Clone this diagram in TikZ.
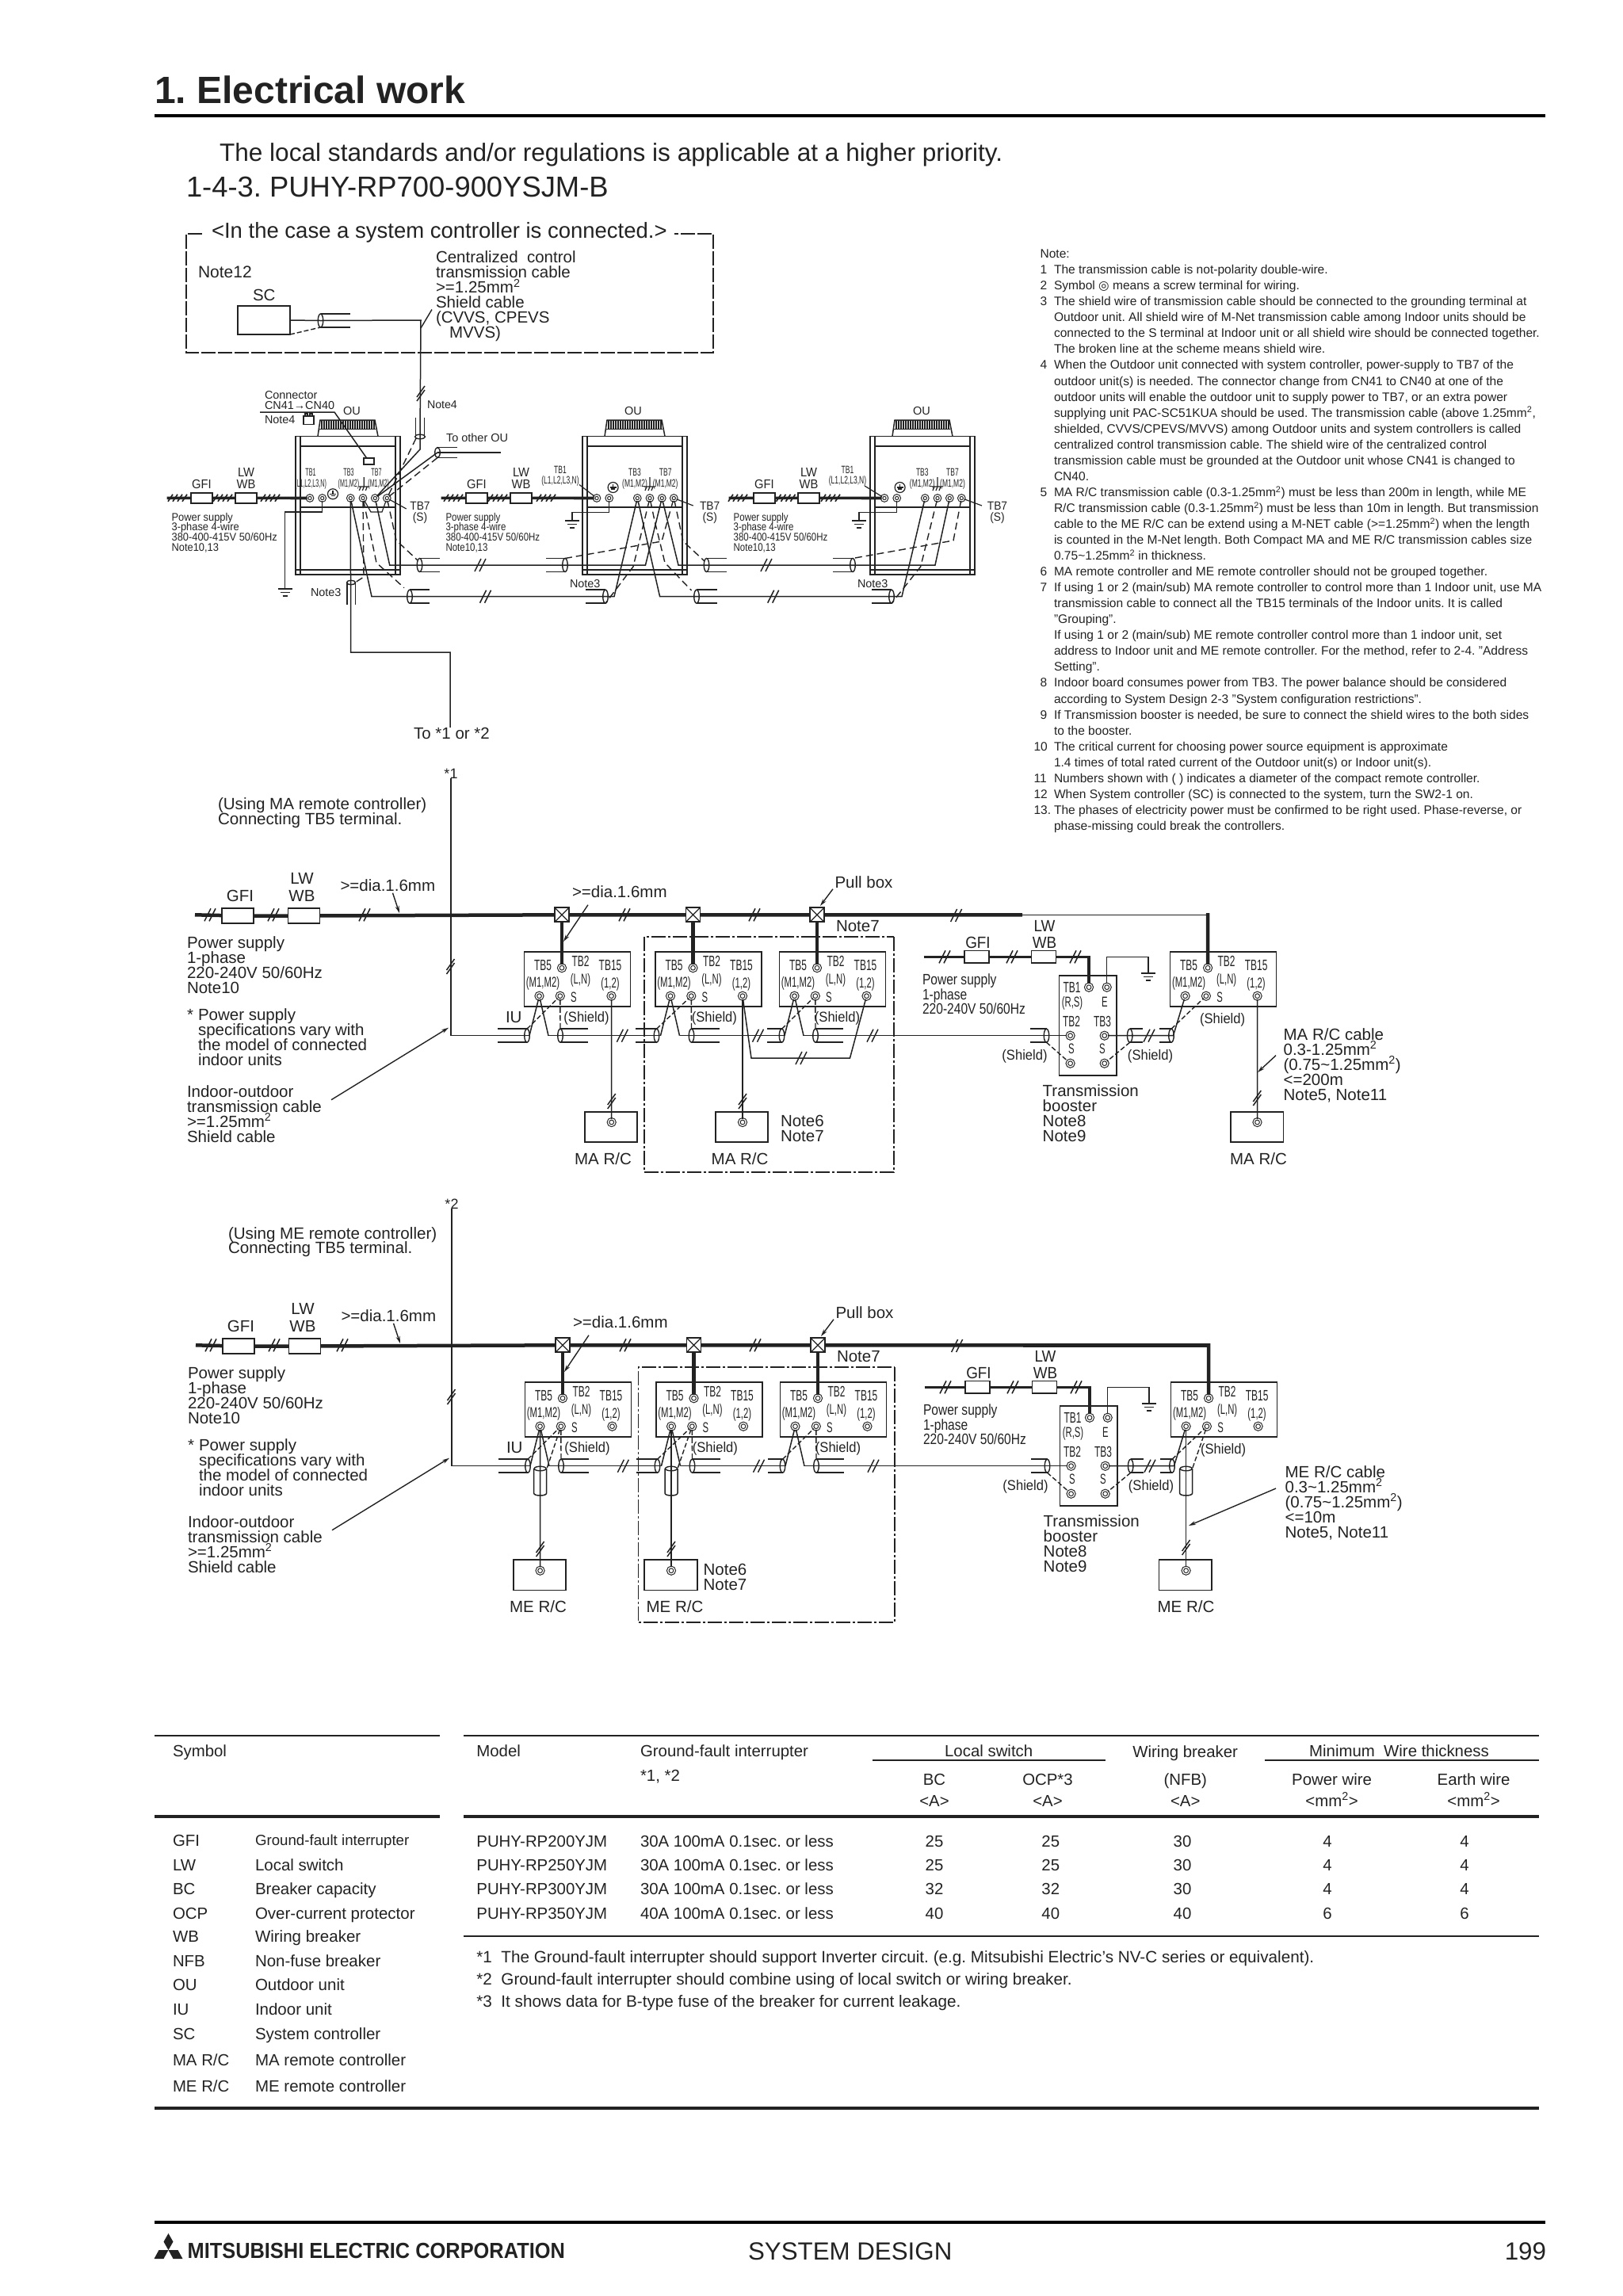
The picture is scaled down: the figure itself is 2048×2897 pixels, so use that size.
\documentclass[tikz,border=0pt]{standalone}
\usepackage{fontspec}
\setmainfont{Liberation Sans}
\newfontfamily\fS[FakeStretch=0.63]{Liberation Sans}
\newfontfamily\fT[FakeStretch=0.53]{Liberation Sans}
\newfontfamily\fO[FakeStretch=0.82]{Liberation Sans}
\newfontfamily\fN[FakeStretch=0.92]{Liberation Sans}
\newfontfamily\dv{DejaVu Sans}
\usetikzlibrary{shapes.geometric,arrows.meta}
\definecolor{ink}{HTML}{222222}
\def\tffam{}
\newcommand\tfont[2]{\fontsize{#1}{#2}\selectfont\tffam\frenchspacing\lineskiplimit-100pt\relax}
\tikzset{
 fam/.code={\def\tffam{#1}},
 lbl/.style={inner sep=0pt,outer sep=0pt,anchor=north west,align=left,text=ink},
 wire/.style={draw=ink,line width=1.5pt},
 power/.style={draw=ink,line width=4.5pt},
 shd/.style={draw=ink,line width=1.4pt,dash pattern=on 9pt off 5pt},
 frm/.style={draw=ink,line width=1.8pt,dash pattern=on 18pt off 3pt on 3pt off 3pt},
 tk/.style={draw=ink,line width=1.5pt},
 box/.style={draw=ink,line width=1.7pt,inner sep=0pt,outer sep=0pt,anchor=north west,rectangle},
 fuse/.style={draw=ink,line width=1.7pt,fill=white,inner sep=0pt,outer sep=0pt,rectangle},
 pull/.style={fuse,minimum width=18,minimum height=18,path picture={
   \draw[line width=1.2pt,draw=ink] (path picture bounding box.north west)--(path picture bounding box.south east)
   (path picture bounding box.north east)--(path picture bounding box.south west);}},
 term/.style={circle,draw=ink,fill=white,line width=1.1pt,double=white,double distance=1.3pt,minimum size=8.5,inner sep=0pt,outer sep=0pt},
 tterm/.style={term,minimum size=7},
 shl/.style={ellipse,draw=ink,line width=1.4pt,minimum width=6.5,minimum height=17,inner sep=0pt,outer sep=0pt},
 shv/.style={ellipse,draw=ink,line width=1.4pt,minimum width=15,minimum height=5.5,inner sep=0pt,outer sep=0pt},
 lead/.style={draw=ink,line width=1.4pt,-{Stealth[length=9pt,width=5pt]}},
 rul/.style={draw=ink},
}
\newcounter{tn}
\newcommand\TX[6][]{\stepcounter{tn}\node[lbl,font=\tfont{#4}{#5},yshift={0.64*#4*1pt},#1] (t\arabic{tn}) at (#2,#3) {\rule{0pt}{#4pt}#6};}
\newcommand\tkh[2]{\draw[tk] (#1-7,#2+8)--(#1+1,#2-8) (#1-1,#2+8)--(#1+7,#2-8);}
\newcommand\tkv[2]{\draw[tk] (#1-5,#2+9)--(#1+5,#2-5) (#1-5,#2+4)--(#1+5,#2-10);}
\newcommand\tkf[2]{\draw[tk,line width=1.7pt] (#1-13,#2+4.5)--(#1-7,#2-4.5) (#1-7,#2+4.5)--(#1-1,#2-4.5) (#1-1,#2+4.5)--(#1+5,#2-4.5) (#1+5,#2+4.5)--(#1+11,#2-4.5);}
\newcommand\GN[2]{\draw[wire] (#1-9,#2)--(#1+9,#2) (#1-6,#2+4.5)--(#1+6,#2+4.5) (#1-3,#2+9)--(#1+3,#2+9);}
\newcommand\EARTH[2]{\draw[draw=ink,line width=1.2pt] (#1,#2-12)--(#1,#2) (#1-7,#2)--(#1+7,#2) (#1-6,#2+5)--(#1-4,#2) (#1-2,#2+5)--(#1,#2) (#1+2,#2+5)--(#1+4,#2);}
\newcommand\PE[2]{\draw[draw=ink,line width=1.2pt] (#1,#2) circle[radius=6.5];\draw[draw=ink,line width=1.2pt] (#1,#2-4)--(#1,#2) (#1-4,#2)--(#1+4,#2) (#1-2.5,#2+2)--(#1+2.5,#2+2);}
\newcommand\cabRL[4]{\node[shl] (#1) at (#2,#3) {};\draw[wire] (#1.north)--++(#4,0) (#1.south)--++(#4,0);}
% outdoor unit
\newcommand\OU[2]{\begin{scope}[shift={(#2,550.5)}]
 \node[box,minimum width=132,minimum height=174.5] (#1) at (0,0) {};
 \draw[wire,line width=1.6pt] (6,0)--(6,174.5) (126,0)--(126,174.5) (0,168.5)--(132,168.5);
 \draw[wire,line width=2pt] (6,12.5)--(126,12.5) (6,89.5)--(126,89.5);
 \draw[wire] (28,0)--(31,-20.5)--(100,-20.5)--(104,0);
 \draw[wire] (30,-9)--(101,-9);
 \foreach \q in {33,36,...,99}{\draw[draw=ink,line width=1.2pt] (\q,-20.5)--(\q,-9);}
 \node[tterm] (#1-L) at (18,78) {};
 \node[tterm] (#1-E) at (33.7,78) {};
 \node[tterm] (#1-A) at (69.3,78) {};
 \node[tterm] (#1-B) at (85,78) {};
 \node[tterm] (#1-C) at (100.3,78) {};
 \node[tterm] (#1-D) at (115.3,78) {};
\end{scope}}
% power feed of an outdoor unit
\newcommand\FEED[9]{%name,unit,x start,gfi,lw,t1,t2,t3,family
 \coordinate (#1-s) at (#3,628.3);
 \node[fuse,minimum width=27,minimum height=13] (#1-g) at (#4,628.3) {};
 \node[fuse,minimum width=27,minimum height=13] (#1-w) at (#5,628.3) {};
 \draw[power,line width=3.6pt] (#1-s)--(#1-g) (#1-g)--(#1-w) (#1-w)--(#2-L);
 \tkf{#6}{628.3}\tkf{#7}{628.3}\tkf{#8}{628.3}
 \TX[anchor=north,fam=\fN]{#4}{610.6}{16}{16}{GFI}
 \TX[anchor=north,align=center,fam=\fN]{#5}{596}{16}{14.6}{LW\\WB}
 \TX[fam=#9]{#3+6}{652}{14}{12.9}{Power supply\\3-phase 4-wire\\380-400-415V 50/60Hz\\Note10,13}
}
% indoor unit
\newcommand\IU[3]{\begin{scope}[shift={(#2,#3)}]
 \node[box,minimum width=134,minimum height=69.5] (#1) at (0,0) {};
 \node[term] (#1-T2) at (47.5,20.5) {};
 \node[term] (#1-M) at (19,56) {};
 \node[term] (#1-S) at (45.3,56) {};
 \node[term] (#1-T15) at (110,56) {};
 \TX[anchor=north,fam=\fS]{23.5}{17.3}{19}{19}{TB5}
 \TX[anchor=north,fam=\fS]{23.5}{38.3}{18}{18}{(M1,M2)}
 \TX[anchor=north,fam=\fS]{71}{12.3}{19}{19}{TB2}
 \TX[anchor=north,fam=\fS]{71}{34.3}{18}{18}{(L,N)}
 \TX[anchor=north,fam=\fS]{108.5}{17.3}{19}{19}{TB15}
 \TX[anchor=north,fam=\fS]{108.5}{39.3}{18}{18}{(1,2)}
 \TX[anchor=north,fam=\fS]{62.5}{57.3}{18}{18}{S}
\end{scope}}
% transmission at an indoor unit: name, x0, y0, left ellipse rel x, left len, shield rel x
\newcommand\IUW[6]{\begin{scope}[shift={(#2,#3)}]
 \cabRL{#1-cl}{#4}{106}{-#5}
 \cabRL{#1-cr}{45.5}{106}{35}
 \coordinate (#1-ll) at (6.5,106);
 \coordinate (#1-lr) at (30.5,106);
 \draw[wire] (#1-ll)--(#1-M)--(#1-lr);
 \draw[shd,dash pattern=on 6pt off 3pt] (#1-cl.north)--(#1-S);
 \draw[shd,dash pattern=on 7pt off 3pt] (#1-S)--(#1-cr.north);
 \TX[anchor=north,fam=\fN]{#6}{82.3}{18}{18}{(Shield)}
\end{scope}}
% the common part of the two indoor diagrams, in MA coordinates
\newcommand\SYS[5]{\begin{scope}[shift={(#2,#3)}]
 \node[lbl,anchor=center,font=\tfont{18}{18}] (#1-star) at (569,976) {#4};
 \coordinate (#1-start) at (246,1154.3);
 \node[fuse,minimum width=40,minimum height=19] (#1-gfi) at (300.3,1155.5) {};
 \node[fuse,minimum width=40,minimum height=19] (#1-lw) at (383.6,1155.5) {};
 \node[pull] (#1-pb1) at (709,1154.3) {};
 \node[pull] (#1-pb2) at (874.5,1154.3) {};
 \node[pull] (#1-pb3) at (1031,1154.3) {};
 \IU{#1a}{661.5}{1200.7}\IU{#1b}{827}{1200.7}\IU{#1c}{983.5}{1200.7}\IU{#1d}{1476.6}{1200.7}
 \draw[power] (#1-start)--(#1-gfi) (#1-gfi)--(#1-lw) (#1-lw)--(#1-pb1) (#1-pb1)--(#1-pb2) (#1-pb2)--(#1-pb3) (#1-pb3)--(1290,1154.3);
 \draw[draw=ink,line width=#5] (1290,1154.3)--(1524,1154.3);
 \draw[power] (1524,1152)--(#1d-T2);
 \draw[power] (#1-pb1)--(#1a-T2);\draw[power] (#1-pb2)--(#1b-T2);\draw[power] (#1-pb3)--(#1c-T2);
 \tkh{265}{1154.3}\tkh{345}{1154.3}\tkh{1206.6}{1155}\tkh{788}{1154.3}\tkh{952}{1154.3}
 \TX[anchor=north]{303}{1130}{20.5}{20}{GFI}
 \TX[anchor=north,align=center]{381}{1108}{20.5}{22}{LW\\WB}
 \TX{429.5}{1116.7}{20.5}{20}{>=dia.1.6mm}
 \TX{722}{1125}{20.5}{20}{>=dia.1.6mm}
 \draw[lead] (495.5,1126.7)--(504,1152);
 \draw[lead] (742,1141.7)--(711,1188);
 \TX{1053.5}{1113}{20.5}{20}{Pull box}
 \draw[lead] (1051,1121.7)--(1035,1143);
 \TX{1055}{1168}{20.5}{20}{Note7}
 \TX{236}{1189}{20.5}{19}{Power supply\\1-phase\\220-240V 50/60Hz\\Note10}
 \TX{236}{1280}{20.5}{19}{*}
 \TX{250}{1280}{20.5}{19}{Power supply\\specifications vary with\\the model of connected\\indoor units}
 \TX{236}{1376.7}{20.5}{19}{Indoor-outdoor\\transmission cable\\>=1.25mm\textsuperscript{2}\\Shield cable}
 \TX{638}{1283}{20.5}{20}{IU}
 \draw[lead] (418,1387.7)--(566,1296.7);
 \tkv{568.5}{1220}
 \IUW{#1a}{661.5}{1200.7}{3.5}{37}{78.5}
 \IUW{#1b}{827}{1200.7}{1.5}{27}{74.4}
 \IUW{#1c}{983.5}{1200.7}{3}{19}{73}
 \draw[wire] (#1-star.south) |- (#1a-cl.center) -- (#1a-ll);
 \draw[wire] (#1a-lr)--(#1a-cr.center)--(#1b-cl.center)--(#1b-ll);
 \draw[wire] (#1b-lr)--(#1b-cr.center)--(#1c-cl.center)--(#1c-ll);
 \tkh{785.4}{1306.7}\tkh{956.5}{1306.7}\tkh{1101}{1306.7}
 % booster
 \begin{scope}[shift={(1336.5,1230.7)}]
  \node[box,minimum width=72.3,minimum height=126.6] (#1e) at (0,0) {};
  \node[term] (#1e-TB1) at (37.5,15) {};
  \node[term] (#1e-E) at (60.2,15) {};
  \node[term] (#1e-TB2) at (14.1,76) {};
  \node[term] (#1e-TB3) at (57.2,76) {};
  \node[term] (#1e-SL) at (14.1,111) {};
  \node[term] (#1e-SR) at (57.2,111) {};
  \coordinate (#1e-s) at (-171,-23.4);
  \node[fuse,minimum width=31,minimum height=15.5] (#1e-g) at (-104,-23.4) {};
  \node[fuse,minimum width=31,minimum height=15.5] (#1e-w) at (-19.6,-23.4) {};
  \draw[power,line width=3.6pt] (#1e-s)--(#1e-g) (#1e-g)--(#1e-w) (#1e-w) -| (#1e-TB1);
  \tkh{-144.5}{-23.4}\tkh{-59.5}{-23.4}\tkh{20.5}{-23.4}
  \coordinate (#1e-gr) at (112.5,-2.7);
  \draw[wire] (#1e-E) |- (#1e-gr |- 0,-23.4) -- (#1e-gr);
  \GN{112.5}{-2.7}
  \TX[anchor=north,fam=\fN]{-102.5}{-41.7}{20.5}{20}{GFI}
  \TX[anchor=north,align=center,fam=\fN]{-18.5}{-62.7}{20.5}{21}{LW\\WB}
  \TX[fam=\fO]{-172.5}{5.3}{19}{18.5}{Power supply\\1-phase\\220-240V 50/60Hz}
  \TX[anchor=north,fam=\fS]{16}{15}{19}{19}{TB1}
  \TX[anchor=north,fam=\fS]{16.5}{33.3}{18}{18}{(R,S)}
  \TX[anchor=north,fam=\fS]{57.5}{33.3}{18}{18}{E}
  \TX[anchor=north,fam=\fS]{15.5}{58.3}{19}{19}{TB2}
  \TX[anchor=north,fam=\fS]{54.5}{58.3}{19}{19}{TB3}
  \TX[anchor=north,fam=\fS]{15.5}{92.3}{18}{18}{S}
  \TX[anchor=north,fam=\fS]{54.5}{92.3}{18}{18}{S}
  \TX[anchor=north,fam=\fN]{-43.5}{100}{18}{18}{(Shield)}
  \TX[anchor=north,fam=\fN]{115}{100}{18}{18}{(Shield)}
  \TX{-20.8}{145.3}{20.5}{19}{Transmission\\booster\\Note8\\Note9}
  \cabRL{#1e-cl}{-16}{76}{-21}
  \cabRL{#1e-c1}{89.2}{76}{16}
  \cabRL{#1e-c2}{141.5}{76}{-15}
  \coordinate (#1e-low) at (144,76);
  \tkh{113.5}{76}
 \end{scope}
 \draw[wire] (#1c-lr)--(#1c-cr.center)--(#1e-cl.center)--(#1e-TB2);
 \draw[wire] (#1e-TB3)--(#1e-c1.center)--(#1e-c2.center)--(#1e-low)--(#1d-M);
 \draw[shd,dash pattern=on 6pt off 3pt] (#1e-cl.south)--(#1e-SL);
 \draw[shd,dash pattern=on 6pt off 3pt] (#1e-c1.south)--(#1e-SR);
 \draw[shd,dash pattern=on 6pt off 3pt] (#1e-c2.north)--(#1d-S);
 \TX[anchor=north,fam=\fN]{1542.6}{1285}{18}{18}{(Shield)}
\end{scope}}
\newcommand\CYL[3]{% name, x, y of top
 \node[shv] (#1) at (#2,#3) {};
 \draw[wire] (#2-8,#3)--(#2-8,#3+31) .. controls (#2-8,#3+35) and (#2+8,#3+35) .. (#2+8,#3+31)--(#2+8,#3);
}
\newcommand\NT[4]{\pgfmathsetmacro\ny{320+20.05*#1}\TX{#2}{\ny}{15.55}{15.55}{#3}\TX{1330}{\ny}{15.55}{20.05}{#4}}
\newcommand\RW[8]{\TX{601.4}{#1}{20.4}{20}{#2}\TX{808}{#1}{20.4}{20}{#3}
 \TX[anchor=north]{1179}{#1}{20.4}{20}{#4}\TX[anchor=north]{1325.8}{#1}{20.4}{20}{#5}
 \TX[anchor=north]{1492}{#1}{20.4}{20}{#6}\TX[anchor=north]{1675}{#1}{20.4}{20}{#7}
 \TX[anchor=north]{1848}{#1}{20.4}{20}{#8}}
\newcommand\SM[3]{\TX{218}{#1}{20.4}{20}{#2}\TX{322}{#1}{20.5}{20}{#3}}
\begin{document}
\begin{tikzpicture}[x=1pt,y=-1pt]
\useasboundingbox (0,0) rectangle (2048,2897);
% header
\TX{195}{113}{48}{48}{\bfseries 1. Electrical work}
\draw[draw=black,line width=4pt] (195,146)--(1950,146);
\TX{277}{191.7}{31.6}{31}{The local standards and/or regulations is applicable at a higher priority.}
\TX{235}{235}{36.4}{33}{1-4-3. PUHY-RP700-900YSJM-B}
% controller frame
\TX{267}{291}{27.5}{26}{<In the case a system controller is connected.>}
\draw[frm,dash pattern=on 18pt off 3pt] (255,295)--(235,295)--(235,445)--(900,445)--(900,295)--(851,295);
\TX{250}{343}{21}{20}{Note12}
\TX{319}{372}{20.5}{20}{SC}
\node[box,minimum width=66,minimum height=36] (sc) at (300,386) {};
\TX{550}{324.5}{20.5}{19}{Centralized\ \ control\\transmission cable\\>=1.25mm\textsuperscript{2}\\Shield cable\\(CVVS, CPEVS\\\ \ \ MVVS)}
\node[shl] (sccab) at (404.5,404.5) {};
\draw[wire] (sccab.north)--++(37,0) (sccab.south)--++(37,0);
\draw[shd,dash pattern=on 6pt off 3pt] (sc.south east)--(sccab.south);
% outdoor units
\OU{oua}{373}\OU{oub}{735}\OU{ouc}{1098}
\node[shv,minimum width=13] (cv) at (530,551) {};
\draw[wire] (524.5,551)--(524.5,527) (535.5,551)--(535.5,527);
\draw[wire] (sc.east)--(sccab.center)--(531,404)--(cv.center);
\draw[lead,-] (545,390.5)--(531,414);
\tkv{531}{497}
\TX{539}{510}{14.2}{14}{Note4}
\TX{334}{498}{14.4}{13}{Connector\\CN41→CN40}
\TX{334}{529}{14.4}{14}{Note4}
\draw[draw=ink,line width=1.3pt] (383,525) rectangle (396,535.5) (385,525)--(385,522)--(388,522)--(388,525) (391,525)--(391,522)--(394,522)--(394,525);
\node[box,minimum width=13,minimum height=8] (cn) at (459,578) {};
\draw[wire] (328,520)--(422,520)--(cn);
\TX[anchor=north]{444}{518}{14.5}{14}{OU}
\TX[anchor=north]{799}{518}{14.5}{14}{OU}
\TX[anchor=north]{1163}{518}{14.5}{14}{OU}
\TX{563}{552}{14.5}{14}{To other OU}
\node[shl,minimum height=13] (ot) at (552,571) {};
\draw[wire] (ot.north)--++(25,0) (ot.south)--++(25,0);
\draw[wire,line width=1.2pt] (ot.center)--(632,571);
\draw[wire] (cv.center)--(530,567)--(oua-C);
\draw[wire] (ot.center)--(oua-C);
\draw[shd] (525,553)--(oua-D);
\draw[shd] (ot.south)--(oua-D);
\PE{420}{623.3}\PE{773.6}{615}\PE{1135.6}{615}
\EARTH{459.3}{614}\EARTH{820}{614}\EARTH{1183}{614}
% grounds
\coordinate (ga) at (359.6,743);\coordinate (gb) at (722,657);\coordinate (gc) at (1084,657);
\draw[wire] (oua-E)|-(ga|-0,646)--(ga);\GN{359.6}{743}
\draw[wire] (oub-E)|-(gb|-0,646.7)--(gb);\GN{722}{657}
\draw[wire] (ouc-E)|-(gc|-0,646.7)--(gc);\GN{1084}{657}
% feeds
\FEED{fa}{oua}{210.6}{254.5}{310.5}{225}{282}{342}{\fN}
\FEED{fb}{oub}{556.5}{601.5}{657.5}{573}{629}{690}{\fO}
\FEED{fc}{ouc}{919.7}{964.5}{1020.5}{932}{992.5}{1049}{\fO}
% terminal labels
\TX[anchor=north,fam=\fT]{392}{596}{13.5}{13}{TB1}
\TX[anchor=north,fam=\fT]{392}{610}{13.5}{13}{(L1,L2,L3,N)}
\TX[anchor=north,fam=\fT]{440}{596}{13.5}{13}{TB3}
\TX[anchor=north,fam=\fT]{440}{610}{13.5}{13}{(M1,M2)}
\TX[anchor=north,fam=\fT]{475}{596}{13.5}{13}{TB7}
\TX[anchor=north,fam=\fT]{477.7}{610}{13.5}{13}{(M1,M2)}
\TX[anchor=north,fam=\fS]{707}{592.7}{13.5}{13}{TB1}
\TX[anchor=north,fam=\fS]{707}{606}{13.5}{13}{(L1,L2,L3,N)}
\TX[anchor=north,fam=\fS]{801}{595.7}{13.5}{13}{TB3}
\TX[anchor=north,fam=\fS]{801}{610}{13.5}{13}{(M1,M2)}
\TX[anchor=north,fam=\fS]{839.7}{595.7}{13.5}{13}{TB7}
\TX[anchor=north,fam=\fS]{839.7}{610}{13.5}{13}{(M1,M2)}
\TX[anchor=north,fam=\fS]{1069.5}{592.7}{13.5}{13}{TB1}
\TX[anchor=north,fam=\fS]{1069.5}{606}{13.5}{13}{(L1,L2,L3,N)}
\TX[anchor=north,fam=\fS]{1163.8}{595.7}{13.5}{13}{TB3}
\TX[anchor=north,fam=\fS]{1163.8}{610}{13.5}{13}{(M1,M2)}
\TX[anchor=north,fam=\fS]{1202}{595.7}{13.5}{13}{TB7}
\TX[anchor=north,fam=\fS]{1202}{610}{13.5}{13}{(M1,M2)}
\draw[wire,line width=1.2pt] (731,611.5)--(oub-L);
\draw[wire,line width=1.2pt] (1091,613)--(ouc-L);
% TB7 (S)
\TX[anchor=north,align=center,fam=\fN]{530}{638}{15}{14}{TB7\\(S)}
\TX[anchor=north,align=center,fam=\fN]{895.7}{638}{15}{14}{TB7\\(S)}
\TX[anchor=north,align=center,fam=\fN]{1258.5}{638}{15}{14}{TB7\\(S)}
\draw[wire,line width=1.2pt] (512.7,642)--(oua-D);
\draw[wire,line width=1.2pt] (874.7,638)--(oub-D);
\draw[wire,line width=1.2pt] (1239,638)--(ouc-D);
\TX{392}{747}{14.4}{14}{Note3}
\TX{719}{736}{14.4}{14}{Note3}
\TX{1082}{736}{14.4}{14}{Note3}
% centralised rows
\cabRL{ra}{529.5}{713}{25}\cabRL{rb}{713}{713}{-24}\cabRL{rc}{891.5}{713}{25}\cabRL{rd}{1076}{713}{-25}
\cabRL{sa}{517}{752.7}{25}\cabRL{sb}{764}{752.7}{-25}\cabRL{sc2}{879}{752.7}{26}\cabRL{sd}{1125}{752.7}{-25}
\draw[wire] (oua-C)--(491.7,713)--(ra.center)--(rb.center)--(814.5,713)--(oub-C);
\draw[wire] (oub-C)--(856,713)--(rc.center)--(rd.center)--(1180,713)--(ouc-C);
\draw[wire] (oua-A)--(469,752.7)--(sa.center)--(sb.center)--(775,752.7)--(oub-A);
\draw[wire] (oub-A)--(832.6,752.7)--(sc2.center)--(sd.center)--(1138,752.7)--(ouc-A);
\tkh{606}{713}\tkh{612.6}{752.7}\tkh{967}{713}\tkh{975.7}{752.7}
\draw[wire,line width=1.2pt] (oua-B)--(468,646)--(482,646)--(oua-D);
\draw[shd] (oua-B)--(459,728)--(448,735);
\draw[shd] (oua-B)--(475,710)--(510,741.7);
\draw[shd] (oua-D)--(500,681.7)--(526.7,706.7);
\draw[shd] (oub-B)--(799,715)--(sb.south);
\draw[shd] (oub-B)--(826,657)--(839,710)--(872.5,745);
\draw[shd] (oub-D)--(835,683)--(rb.north);
\draw[shd] (oub-D)--(862,683)--(889,708);
\draw[shd] (ouc-B)--(1161.7,715)--(sd.south);
\draw[shd] (ouc-D)--(1203,682)--(rd.north);
% to the indoor units
\node[shv,minimum width=11] (dn) at (443,735) {};
\draw[wire] (438,735)--(438,763) (448.3,735)--(448.3,763);
\node[lbl,anchor=center,font=\tfont{20.5}{20}] (to12) at (570,925) {To *1 or *2};
\draw[wire] (oua-A)--(442.7,823)--(568,823)--(to12.north-|568,0);
% ---- indoor diagrams
\TX{275}{1014.5}{20.6}{18.5}{(Using MA remote controller)\\Connecting TB5 terminal.}
\draw[frm] (1128,1182) rectangle (813,1479);
\SYS{ma}{0}{0}{*1}{1.4pt}
\node[box,minimum width=66,minimum height=38] (marc1) at (738,1403) {};
\node[term] (marc1-t) at (771.7,1416) {};
\node[box,minimum width=66,minimum height=38] (marc2) at (903,1403) {};
\node[term] (marc2-t) at (937,1416) {};
\node[box,minimum width=66.6,minimum height=38] (marc4) at (1553,1403) {};
\node[term] (marc4-t) at (1586.5,1416) {};
\draw[wire] (maa-T15)--(marc1-t);
\draw[wire] (mab-T15)--(marc2-t);
\draw[wire] (mad-T15)--(marc4-t);
\draw[wire] (mab-T15)--(948,1335)--(1072.5,1335)--(mac-T15);
\tkv{771.7}{1390}\tkv{937}{1390}\tkv{1586.3}{1386}\tkh{1011}{1335}
\TX[anchor=north]{761}{1462}{20.5}{20}{MA R/C}
\TX[anchor=north]{933.6}{1462}{20.5}{20}{MA R/C}
\TX[anchor=north]{1588}{1462}{20.5}{20}{MA R/C}
\TX{985}{1414}{20.5}{19}{Note6\\Note7}
\TX{1619.6}{1305}{20.5}{19}{MA R/C cable\\0.3-1.25mm\textsuperscript{2}\\(0.75\textasciitilde1.25mm\textsuperscript{2})\\<=200m\\Note5, Note11}
\draw[lead] (1610,1331.7)--(1587,1353);
\tkh{460}{1154.3}
% ME
\TX{288}{1556}{20.6}{18.5}{(Using ME remote controller)\\Connecting TB5 terminal.}
\draw[frm] (1129,1725) rectangle (805.5,2047);
\SYS{me}{1}{543}{*2}{4.5pt}
\tkh{432}{1697.3}
\CYL{mecy1}{681.6}{1853}\CYL{mecy2}{847}{1853}\CYL{mecy4}{1496.6}{1853}
\node[box,minimum width=66,minimum height=38.5] (merc1) at (648,1968) {};
\node[term] (merc1-t) at (681.6,1981.7) {};
\node[box,minimum width=67,minimum height=38.5] (merc2) at (813,1968) {};
\node[term] (merc2-t) at (847,1981.7) {};
\node[box,minimum width=66.4,minimum height=38.5] (merc4) at (1462.6,1968) {};
\node[term] (merc4-t) at (1496.6,1981.7) {};
\draw[wire] (mea-M)--(merc1-t);
\draw[wire] (meb-M)--(merc2-t);
\draw[wire] (med-M)--(merc4-t);
\draw[shd,dash pattern=on 6pt off 3pt] (mea-S)--(690,1853);
\draw[shd,dash pattern=on 6pt off 3pt] (meb-S)--(855,1853);
\draw[shd,dash pattern=on 6pt off 3pt] (med-S)--(1504.6,1853);
\tkv{681.6}{1955}\tkv{847}{1955}\tkv{1496.6}{1953}
\TX[anchor=north]{679}{2027}{20.5}{20}{ME R/C}
\TX[anchor=north]{851.5}{2027}{20.5}{20}{ME R/C}
\TX[anchor=north]{1496.5}{2027}{20.5}{20}{ME R/C}
\TX{887.6}{1980}{20.5}{19}{Note6\\Note7}
\TX{1621.6}{1857}{20.5}{19}{ME R/C cable\\0.3\textasciitilde1.25mm\textsuperscript{2}\\(0.75\textasciitilde1.25mm\textsuperscript{2})\\<=10m\\Note5, Note11}
\draw[lead] (1610,1878)--(1500,1925);
% notes
\TX{1312.6}{320}{15.55}{15.55}{Note:}
\NT{1}{1312.6}{1}{The transmission cable is not-polarity double-wire.}
\NT{2}{1312.6}{2}{Symbol {\dv ◎} means a screw terminal for wiring.}
\NT{3}{1312.6}{3}{The shield wire of transmission cable should be connected to the grounding terminal at\\Outdoor unit. All shield wire of M-Net transmission cable among Indoor units should be\\connected to the S terminal at Indoor unit or all shield wire should be connected together.\\The broken line at the scheme means shield wire.}
\NT{7}{1312.6}{4}{When the Outdoor unit connected with system controller, power-supply to TB7 of the\\outdoor unit(s) is needed. The connector change from CN41 to CN40 at one of the\\outdoor units will enable the outdoor unit to supply power to TB7, or an extra power\\supplying unit PAC-SC51KUA should be used. The transmission cable (above 1.25mm\textsuperscript{2},\\shielded, CVVS/CPEVS/MVVS) among Outdoor units and system controllers is called\\centralized control transmission cable. The shield wire of the centralized control\\transmission cable must be grounded at the Outdoor unit whose CN41 is changed to\\CN40.}
\NT{15}{1312.6}{5}{MA R/C transmission cable (0.3-1.25mm\textsuperscript{2}) must be less than 200m in length, while ME\\R/C transmission cable (0.3-1.25mm\textsuperscript{2}) must be less than 10m in length. But transmission\\cable to the ME R/C can be extend using a M-NET cable (>=1.25mm\textsuperscript{2}) when the length\\is counted in the M-Net length. Both Compact MA and ME R/C transmission cables size\\0.75\textasciitilde1.25mm\textsuperscript{2} in thickness.}
\NT{20}{1312.6}{6}{MA remote controller and ME remote controller should not be grouped together.}
\NT{21}{1312.6}{7}{If using 1 or 2 (main/sub) MA remote controller to control more than 1 Indoor unit, use MA\\transmission cable to connect all the TB15 terminals of the Indoor units. It is called\\"Grouping".\\If using 1 or 2 (main/sub) ME remote controller control more than 1 indoor unit, set\\address to Indoor unit and ME remote controller. For the method, refer to 2-4. "Address\\Setting".}
\NT{27}{1312.6}{8}{Indoor board consumes power from TB3. The power balance should be considered\\according to System Design 2-3 "System configuration restrictions".}
\NT{29}{1312.6}{9}{If Transmission booster is needed, be sure to connect the shield wires to the both sides\\to the booster.}
\NT{31}{1304.5}{10}{The critical current for choosing power source equipment is approximate\\1.4 times of total rated current of the Outdoor unit(s) or Indoor unit(s).}
\NT{33}{1304.5}{11}{Numbers shown with ( ) indicates a diameter of the compact remote controller.}
\NT{34}{1304.5}{12}{When System controller (SC) is connected to the system, turn the SW2-1 on.}
\NT{35}{1304.5}{13.}{The phases of electricity power must be confirmed to be right used. Phase-reverse, or\\phase-missing could break the controllers.}
% tables
\draw[rul,line width=2.2pt] (195,2190)--(555.4,2190) (585,2190)--(1942,2190);
\draw[rul,line width=4pt] (195,2291.7)--(555.4,2291.7) (585,2291.7)--(1942,2291.7);
\draw[rul,line width=2pt] (1100.8,2221)--(1394.7,2221) (1595.6,2221)--(1942,2221);
\draw[rul,line width=2.2pt] (585,2443)--(1942,2443);
\draw[rul,line width=4pt] (195,2660)--(1942,2660);
\TX{218}{2209}{20.4}{20}{Symbol}
\TX{601.4}{2209}{20.4}{20}{Model}
\TX{808}{2209}{20.4}{20}{Ground-fault interrupter}
\TX{808}{2240}{20.4}{20}{*1, *2}
\TX[anchor=north]{1247.7}{2209}{20.4}{20}{Local switch}
\TX[anchor=north]{1495.7}{2210}{20.4}{20}{Wiring breaker}
\TX[anchor=north]{1765.5}{2209}{20.4}{20}{Minimum\ \ Wire thickness}
\TX[anchor=north]{1179}{2245}{20.4}{20}{BC}
\TX[anchor=north]{1322}{2245}{20.4}{20}{OCP*3}
\TX[anchor=north]{1495.7}{2245}{20.4}{20}{(NFB)}
\TX[anchor=north]{1680.6}{2245}{20.4}{20}{Power wire}
\TX[anchor=north]{1859.6}{2245}{20.4}{20}{Earth wire}
\TX[anchor=north]{1179}{2272}{20.4}{20}{<A>}
\TX[anchor=north]{1322}{2272}{20.4}{20}{<A>}
\TX[anchor=north]{1495.7}{2272}{20.4}{20}{<A>}
\TX[anchor=north]{1680.6}{2272}{20.4}{20}{<mm\textsuperscript{2}>}
\TX[anchor=north]{1859.6}{2272}{20.4}{20}{<mm\textsuperscript{2}>}
\RW{2322.7}{PUHY-RP200YJM}{30A 100mA 0.1sec. or less}{25}{25}{30}{4}{4}
\RW{2352.7}{PUHY-RP250YJM}{30A 100mA 0.1sec. or less}{25}{25}{30}{4}{4}
\RW{2383}{PUHY-RP300YJM}{30A 100mA 0.1sec. or less}{32}{32}{30}{4}{4}
\RW{2414.3}{PUHY-RP350YJM}{40A 100mA 0.1sec. or less}{40}{40}{40}{6}{6}
\TX{601.4}{2469}{20.7}{20}{*1\ \ The Ground-fault interrupter should support Inverter circuit. (e.g. Mitsubishi Electric's NV-C series or equivalent).}
\TX{601.4}{2497}{20.7}{20}{*2\ \ Ground-fault interrupter should combine using of local switch or wiring breaker.}
\TX{601.4}{2525}{20.7}{20}{*3\ \ It shows data for B-type fuse of the breaker for current leakage.}
\TX{218}{2322}{20.4}{20}{GFI}\TX{322}{2322}{18.7}{20}{Ground-fault interrupter}
\SM{2352.7}{LW}{Local switch}
\SM{2383}{BC}{Breaker capacity}
\SM{2414}{OCP}{Over-current protector}
\SM{2443}{WB}{Wiring breaker}
\SM{2474}{NFB}{Non-fuse breaker}
\SM{2504}{OU}{Outdoor unit}
\SM{2535}{IU}{Indoor unit}
\SM{2566}{SC}{System controller}
\SM{2599}{MA R/C}{MA remote controller}
\SM{2632}{ME R/C}{ME remote controller}
% footer
\draw[draw=black,line width=4pt] (195,2804)--(1950,2804);
\fill[ink] (212.5,2818)--(218.5,2828.5)--(212.5,2839)--(206.5,2828.5)--cycle;
\fill[ink] (212.5,2839)--(200.5,2839)--(194.5,2850)--(206.5,2850)--cycle;
\fill[ink] (212.5,2839)--(224.5,2839)--(230.5,2850)--(218.5,2850)--cycle;
\TX{236.6}{2840}{27.6}{29}{\bfseries\fN MITSUBISHI ELECTRIC CORPORATION}
\TX{944}{2840}{31.3}{29}{SYSTEM DESIGN}
\TX[anchor=north east]{1951}{2840}{31.3}{29}{199}
\end{tikzpicture}
\end{document}
